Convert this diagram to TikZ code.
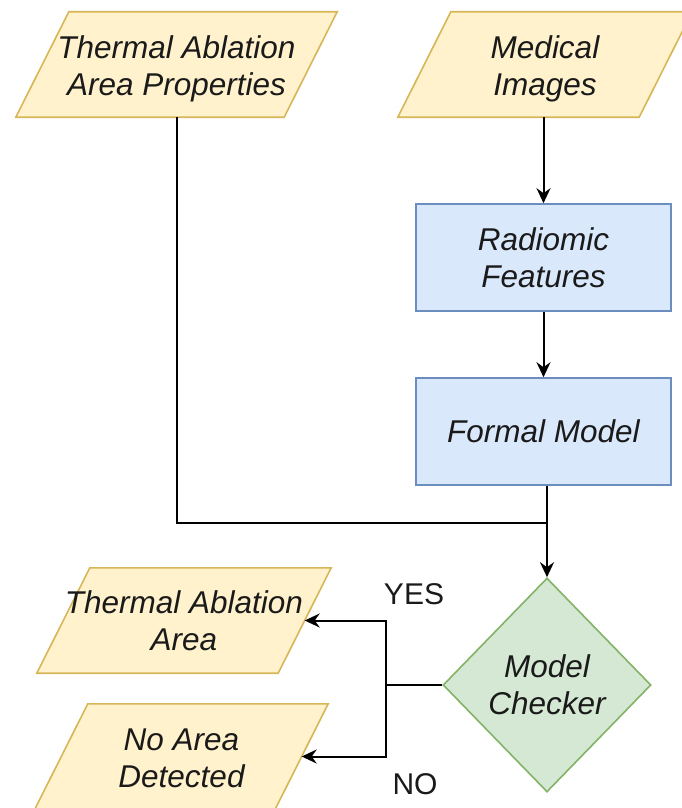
\documentclass[tikz,border=0pt]{standalone}
\usepackage{fontspec}
\setmainfont{Liberation Sans}
\usetikzlibrary{shapes.geometric,arrows.meta,calc,backgrounds}
\definecolor{ylwf}{HTML}{FFF2CC}
\definecolor{ylwd}{HTML}{D6B656}
\definecolor{bluf}{HTML}{DAE8FC}
\definecolor{blud}{HTML}{6C8EBF}
\definecolor{grnf}{HTML}{D5E8D4}
\definecolor{grnd}{HTML}{82B366}
\definecolor{txt}{HTML}{1A1A1A}
\tikzset{
  lbl/.style={font=\fontsize{31.5}{37}\selectfont\itshape, text=txt, align=center},
  iotext/.style={lbl, rectangle, minimum height=105pt, inner sep=0pt},
  ioline/.style={draw=ylwd, fill=ylwf, line width=1.6pt, line join=miter},
  procbox/.style={lbl, rectangle, draw=blud, fill=bluf, line width=1.6pt,
    minimum width=255pt, minimum height=107pt, inner sep=0pt},
  decbox/.style={lbl, diamond, shape aspect=1, draw=grnd, fill=grnf, line width=1.6pt,
    minimum width=208pt, minimum height=214pt, inner sep=0pt},
  conn/.style={line width=2pt, draw=black},
  arr/.style={conn, -{Stealth[length=15pt,width=14pt,inset=5pt]}},
  yn/.style={font=\fontsize{30}{37}\selectfont, text=txt}
}
% #1 name, #2 x, #3 y, #4 mid width, #5 text shift down, #6 text
\newcommand\mkio[6]{%
  \node[iotext, minimum width=#4] (#1) at (#2,#3+#5) {#6};
  \coordinate (#1-bot) at ($(#1.south)+(0,-#5)$);
  \coordinate (#1-rt) at ($(#1.east)+(0,-#5)$);
  \begin{pgfonlayer}{background}
  \draw[ioline] ($(#1.north west)+(26.5,-#5)$) -- ($(#1.north east)+(26.5,-#5)$)
     -- ($(#1.south east)+(-26.5,-#5)$) -- ($(#1.south west)+(-26.5,-#5)$) -- cycle;
  \end{pgfonlayer}}
\begin{document}
\begin{tikzpicture}[x=1pt,y=-1pt]
\useasboundingbox (0,0) rectangle (681,808);
\mkio{tap}{176.5}{64.5}{268pt}{4}{Thermal Ablation\\Area Properties}
\mkio{mi}{545}{64.5}{241pt}{4}{Medical\\Images}
\node[procbox] (rf) at (543.5,257.5) {Radiomic\\Features};
\node[procbox] (fm) at (543.5,431.5) {Formal Model};
\node[decbox] (mc) at (547,685) {Model\\Checker};
\mkio{taa}{184}{620.5}{241pt}{0}{Thermal Ablation\\Area}
\mkio{nad}{181.5}{756.5}{240pt}{2}{No Area\\Detected}
\node[yn] (yes) at (414,594) {YES};
\node[yn] (no) at (415,784) {NO};
\coordinate (join) at (547,523);
\coordinate (split) at (386,685);
\draw[arr] (mi-bot -| rf.north) -- (rf.north);
\draw[arr] (rf.south) -- (fm.north);
\draw[conn] (tap-bot) |- (join);
\draw[conn] (fm.south -| join) -- (join);
\draw[arr] (join) -- (mc.north);
\draw[conn] (mc.west) -- (split);
\draw[arr] (split) |- (taa-rt);
\draw[arr] (split) |- (nad-rt);
\end{tikzpicture}
\end{document}
